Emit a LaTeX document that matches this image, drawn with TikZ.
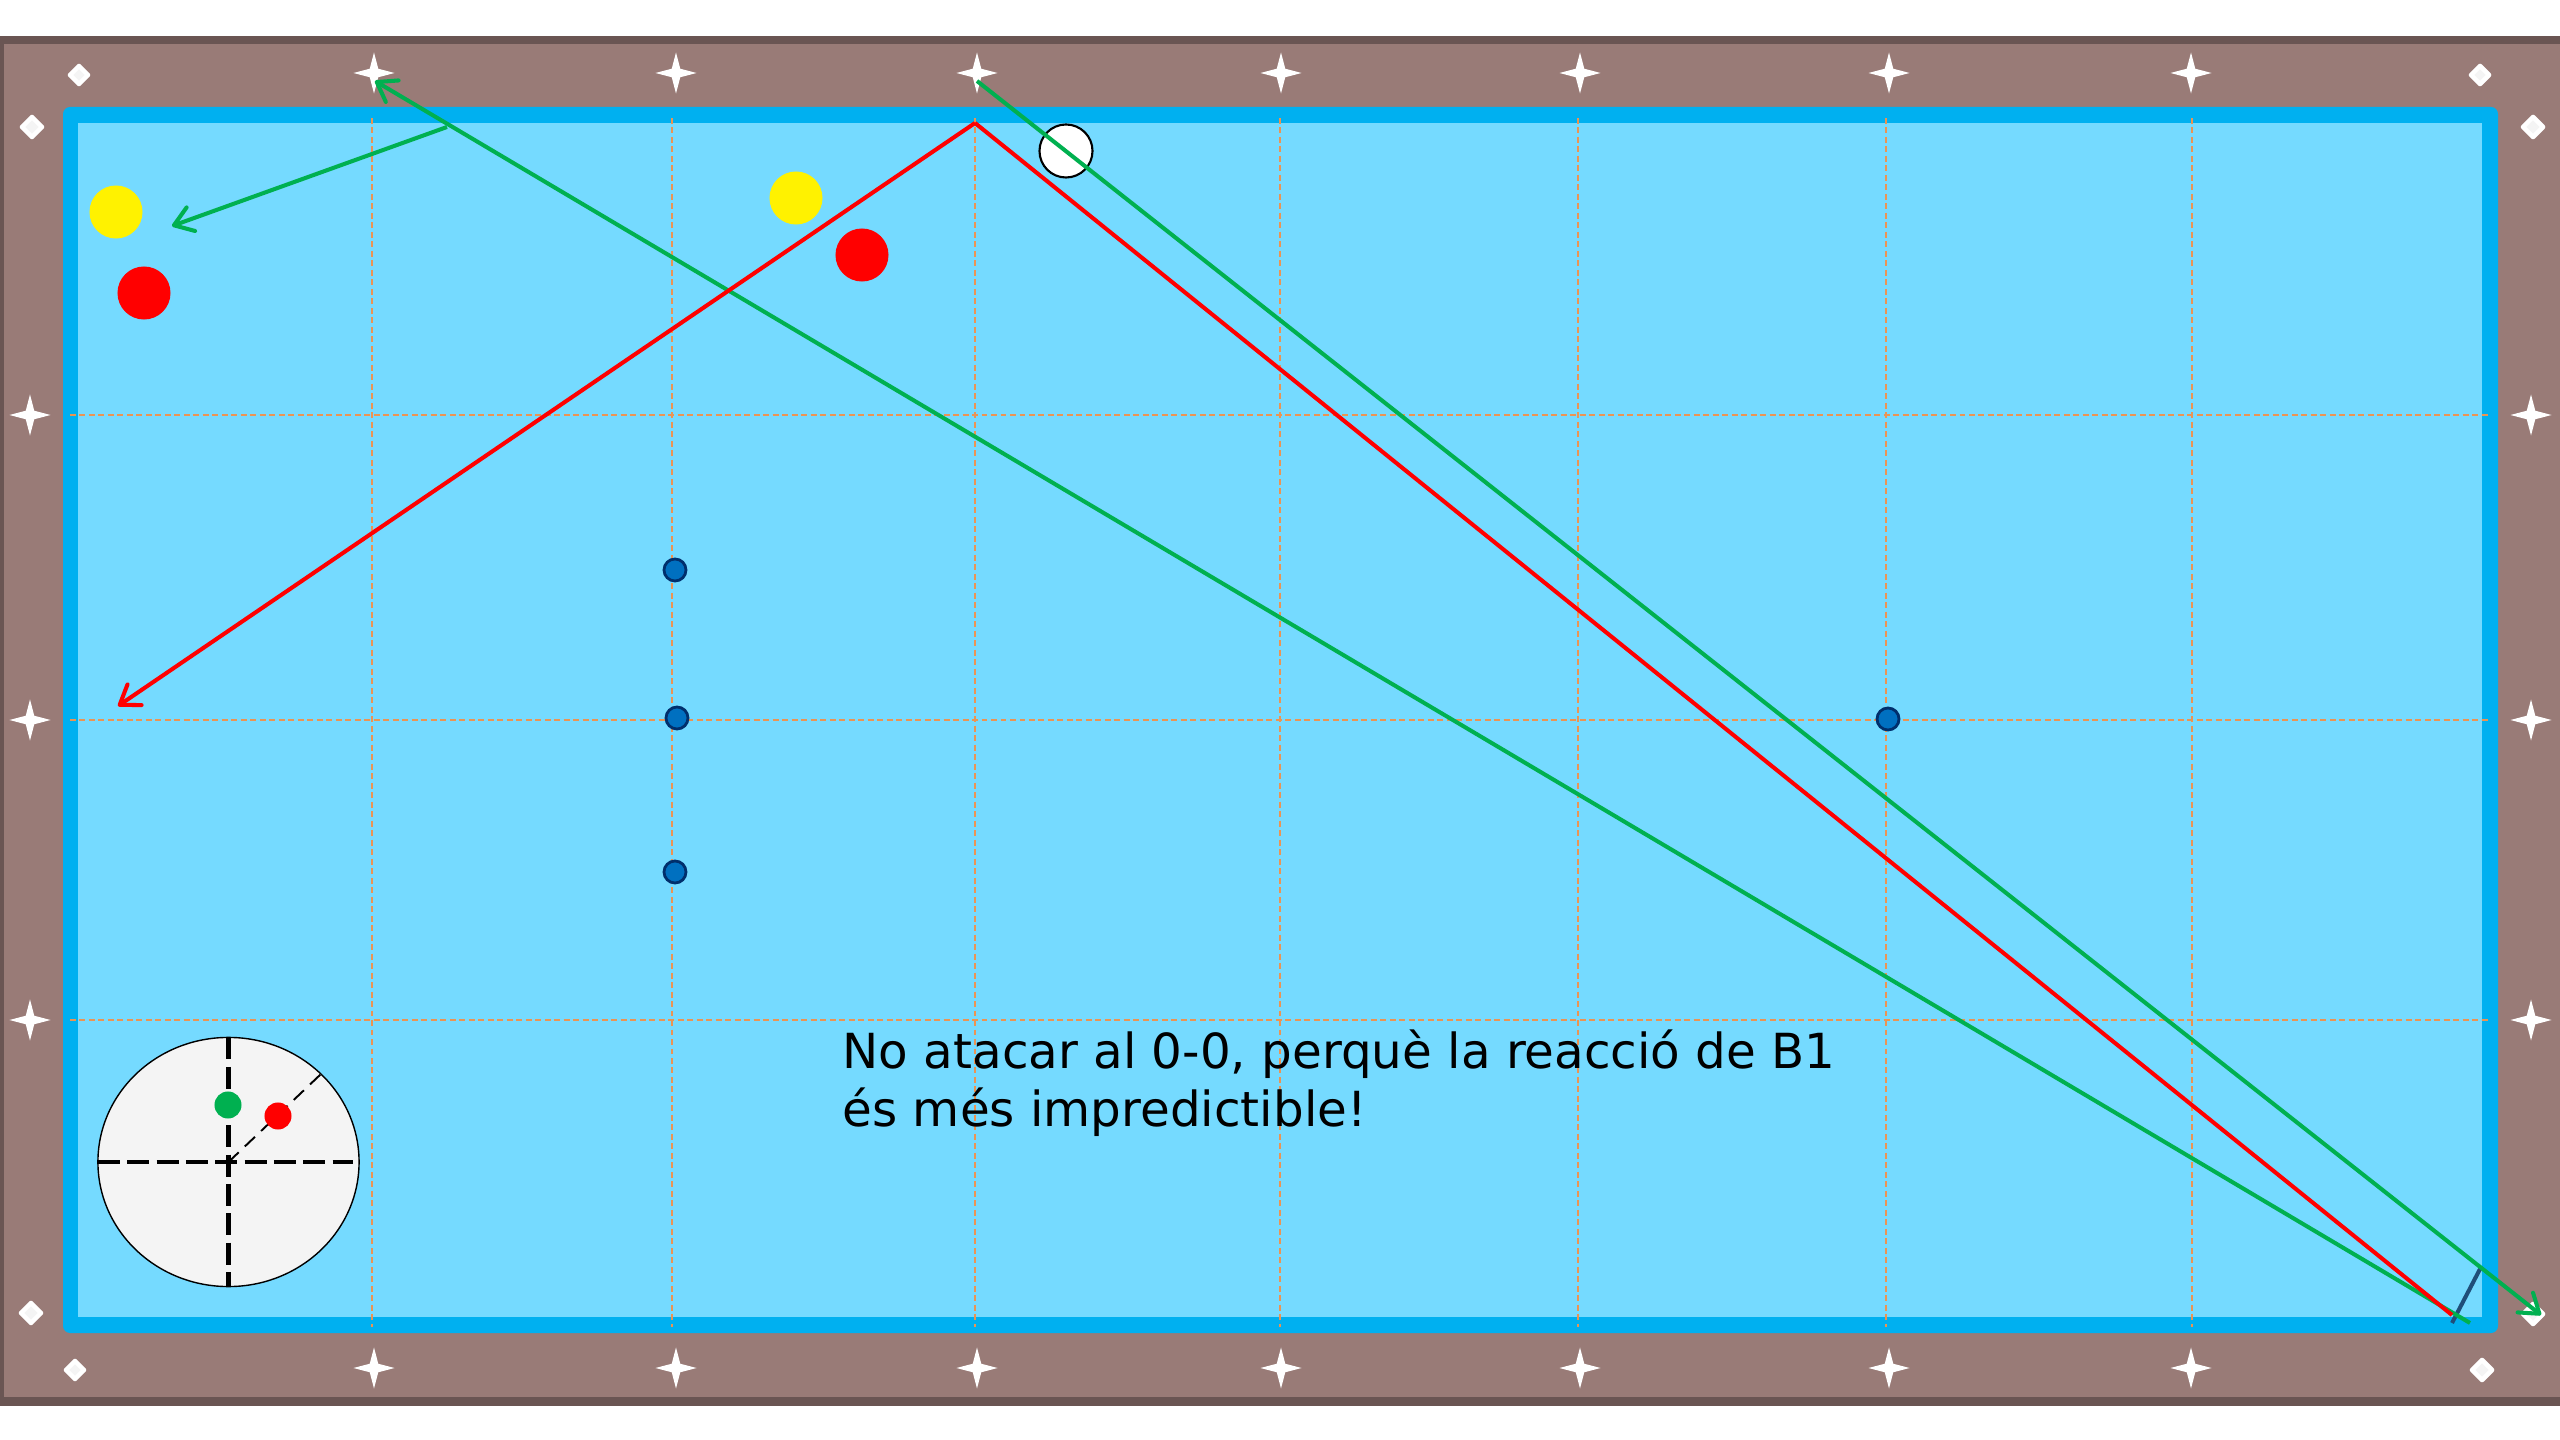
\documentclass[tikz,border=0pt]{standalone}
\usepackage{xcolor}
\usepackage{fontspec}
\setmainfont{DejaVu Sans}
\usetikzlibrary{shapes,arrows.meta,positioning}
\definecolor{railcol}{HTML}{997B77}
\definecolor{raildark}{HTML}{6A5553}
\definecolor{cushioncol}{HTML}{00B0F0}
\definecolor{clothcol}{HTML}{75DAFF}
\definecolor{gridcol}{HTML}{EB9453}
\definecolor{shotgreen}{HTML}{00B050}
\definecolor{cuecol}{HTML}{1F4E79}
\definecolor{dotcol}{HTML}{0070C0}
\definecolor{dotline}{HTML}{002F6C}
\definecolor{spincol}{HTML}{F4F4F4}

\begin{document}
\begin{tikzpicture}[
    x=0.01cm, y=-0.01cm,
    ball/.style={circle, inner sep=0pt, minimum size=0.53cm},
    dot/.style={circle, draw=dotline, line width=0.8pt, fill=dotcol, inner sep=0pt, outer sep=0pt, minimum size=0.22cm},
    spot/.style={circle, inner sep=0pt, minimum size=0.27cm},
    sight/.style={star, star points=4, star point ratio=3.4, fill=white, inner sep=0pt, minimum size=0.41cm},
    corner/.style={diamond, draw=white, line width=1.3pt, line join=round, fill=spincol, inner sep=0pt, outer sep=0pt, minimum size=0.2cm},
    gridline/.style={gridcol, line width=0.55pt, dash pattern=on 1.7pt off 1pt},
    arrow/.style={-{Straight Barb[round, length=0.18cm, width=0.25cm]}, line width=1.15pt},
    shot/.style={line width=1.15pt},
    crossline/.style={line width=1.15pt, dash pattern=on 6.25pt off 2.09pt}
]
\useasboundingbox (0,0) rectangle (2560,1440);
% table
\fill[railcol] (0,36) rectangle (2560,1406);
\fill[raildark] (0,36) rectangle (2560,44);
\fill[raildark] (0,1397) rectangle (2560,1406);
\fill[raildark] (0,36) rectangle (4,1406);
\fill[cushioncol, rounded corners=2pt] (63,107) rectangle (2498,1333);
\fill[clothcol] (78,123) rectangle (2482,1317);
\foreach \gx in {372,672,975,1280,1578,1886,2192} {
  \draw[gridline] (\gx,118) -- (\gx,1327);
}
\foreach \gy in {415,720,1020} {
  \draw[gridline] (70,\gy) -- (2490,\gy);
}
% sights
\foreach \sx/\sn in {374/a,676/b,977/c,1281/d,1580/e,1889/f,2191/g} {
  \node[sight] (top\sn) at (\sx,73) {};
  \node[sight] (bot\sn) at (\sx,1368) {};
}
\foreach \sy/\sn in {415/a,720/b,1020/c} {
  \node[sight] (left\sn) at (30,\sy) {};
  \node[sight] (right\sn) at (2531,\sy) {};
}
\node[corner, minimum size=0.18cm] (cornerA) at (79,75) {};
\node[corner] (cornerB) at (32,127) {};
\node[corner, minimum size=0.18cm] (cornerC) at (2480,75) {};
\node[corner] (cornerD) at (2533,127) {};
\node[corner] (cornerE) at (31,1313) {};
\node[corner, minimum size=0.18cm] (cornerF) at (75,1370) {};
\node[corner] (cornerG) at (2482,1370) {};
\node[corner] (cornerH) at (2533,1314) {};
% balls
\node[ball, fill=yellow] (yellowA) at (116,212) {};
\node[ball, fill=red] (redA) at (144,293) {};
\node[ball, fill=yellow] (yellowB) at (796,198) {};
\node[ball, fill=red] (redB) at (862,255) {};
\node[ball, fill=white, draw=black, line width=0.6pt] (whiteB) at (1066,151) {};
\node[dot] (dotA) at (675,570) {};
\node[dot] (dotB) at (677,718) {};
\node[dot] (dotC) at (675,872) {};
\node[dot] (dotD) at (1888,719) {};
% shots
\coordinate (bounce) at (975,123);
\coordinate (redend) at (118,706);
\coordinate (redstart) at (2452,1315);
\coordinate (farend) at (2470,1323);
\coordinate (kick) at (447,127);
\coordinate (kicktop) at (375,81);
\coordinate (kickend) at (172,226);
\coordinate (topstart) at (977,81);
\coordinate (cornerend) at (2541,1315);
\coordinate (cueA) at (2480,1269);
\coordinate (cueB) at (2452,1323);
\draw[cuecol, shot] (cueA) -- (cueB);
\draw[arrow, shotgreen] (farend) -- (kicktop);
\draw[arrow, shotgreen] (kick) -- (kickend);
\draw[arrow, shotgreen] (topstart) -- (cornerend);
\draw[shot, red] (redstart) -- (bounce);
\draw[arrow, red] (bounce) -- (redend);
% spin
\node[ellipse, draw=black, line width=0.4pt, fill=spincol, inner sep=0pt, outer sep=0pt, minimum width=2.61cm, minimum height=2.49cm] (spin) at (228.5,1162) {};
\coordinate (spinright) at (353,1162);
\coordinate (spinedge) at (321,1074);
\draw[crossline] (spin.west) -- (spinright);
\draw[crossline] (spin.north) -- (spin.south);
\draw[line width=0.55pt, dash pattern=on 4pt off 2.4pt] (spin.center) -- (spinedge);
\node[spot, fill=shotgreen] (spinA) at (228,1105) {};
\node[spot, fill=red] (spinB) at (278,1116) {};
% note
\node[anchor=north west, inner sep=0pt, align=left, font=\fontsize{13.75}{16.5}\selectfont] (note) at (842,1029) {No atacar al 0-0, perquè la reacció de B1\\és més impredictible!};
\end{tikzpicture}
\end{document}
